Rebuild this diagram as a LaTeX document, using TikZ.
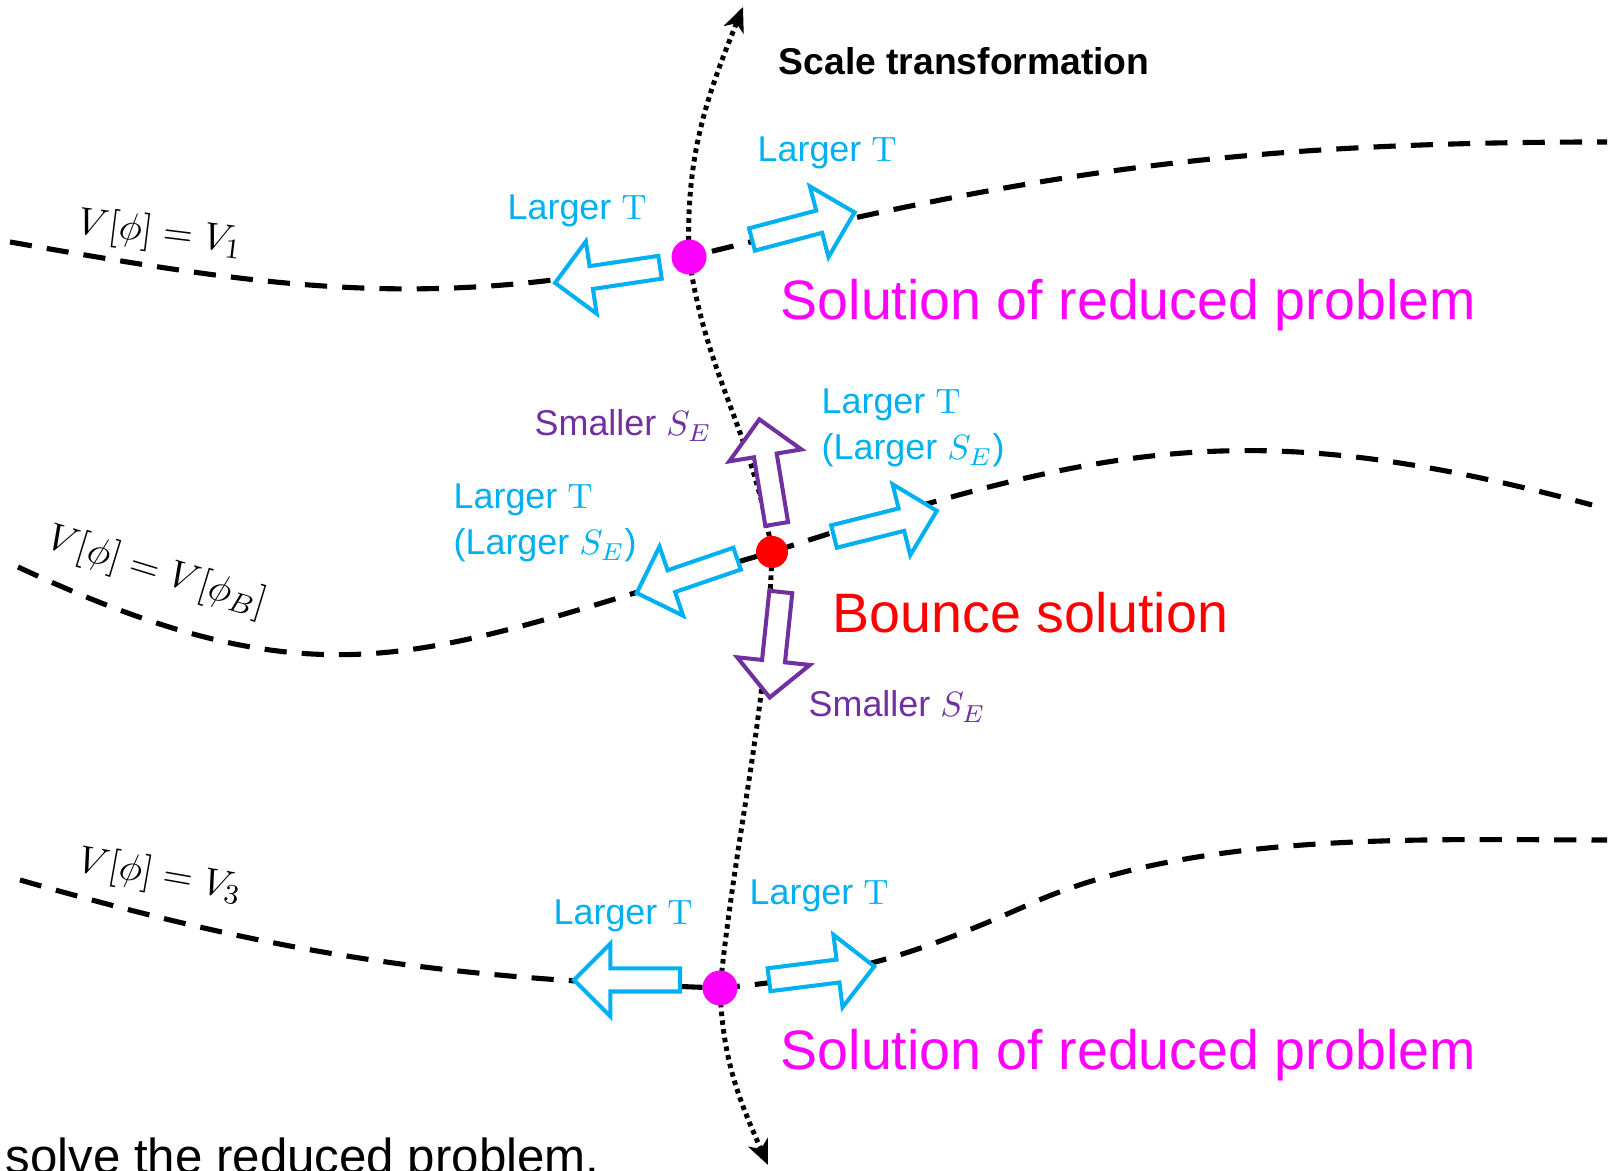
\documentclass[tikz,border=0pt]{standalone}
\usepackage{amssymb, amsmath}
\usepackage[no-math]{fontspec}
\setmainfont{Liberation Sans}
\usetikzlibrary{arrows.meta, shapes.arrows}

\definecolor{tcyan}{RGB}{0,176,240}
\definecolor{spurple}{RGB}{112,48,160}
\definecolor{rmag}{RGB}{255,0,255}
\definecolor{bred}{RGB}{255,0,0}

\tikzset{
  vcurve/.style={line width=1.45pt, dash pattern=on 6.3pt off 4.3pt},
  scurve/.style={line width=1.4pt, dash pattern=on 1.3pt off 1.2pt},
  tarrow/.style={single arrow, draw=tcyan, fill=white, line width=1.15pt,
    inner sep=0.095cm, single arrow head extend=0.25cm, minimum height=1.06cm, anchor=tail},
  sarrow/.style={tarrow, draw=spurple},
  lab/.style={inner sep=0, anchor=base west, font=\fontsize{10.2}{13.1}\selectfont},
  tlab/.style={lab, text=tcyan, align=left},
  slab/.style={lab, text=spurple},
  big/.style={inner sep=0, anchor=base west, font=\fontsize{15.8}{19}\selectfont},
  vlab/.style={inner sep=0, font=\fontsize{11}{13}\selectfont},
  sdot/.style={circle, inner sep=0, minimum size=#1}
}

\begin{document}
\begin{tikzpicture}[x=0.01cm, y=0.01cm, >={Stealth[length=7pt, width=6pt, inset=2pt]}]
\useasboundingbox (0,0) rectangle (1610,1171);

\coordinate (cTop) at (689,914);
\coordinate (cB) at (772,619);
\coordinate (cBot) at (720,183);

% level lines V[phi] = const
\coordinate (l1a) at (10,929);
\coordinate (l1b) at (1607,1029);
\coordinate (l2a) at (18,604);
\coordinate (l2b) at (1592,666);
\coordinate (l3a) at (20,291);
\coordinate (l3m) at (1030,267);
\coordinate (l3b) at (1607,331);
\draw[vcurve] (l1a) to[out=-10, in=192] (cTop) to[out=14, in=180] (l1b);
\draw[vcurve] (l2a) to[out=-25, in=196, looseness=1.2] (cB) to[out=18, in=165, looseness=1.1] (l2b);
\draw[vcurve] (l3a) to[out=-16, in=178] (cBot) to[out=5, in=204] (l3m) to[out=24, in=180, looseness=0.8] (l3b);

% scale transformation
\coordinate (sTop) at (743,1164);
\coordinate (sBot) at (768,6);
\draw[scurve, <->] (sBot) to[out=114, in=272] (cBot) to[out=84, in=268] (cB)
  to[out=99, in=278] (cTop) to[out=92, in=248] (sTop);

\node[tarrow, rotate=188.5] (a1l) at (662,904) {};
\node[tarrow, rotate=14.8] (a1r) at (750,931) {};
\node[tarrow, rotate=198.9] (a2l) at (739,613) {};
\node[tarrow, rotate=14] (a2r) at (832,634) {};
\node[sarrow, rotate=99.4] (a2u) at (777,645) {};
\node[sarrow, rotate=264] (a2d) at (781,581) {};
\node[tarrow, rotate=180] (a3l) at (682,191) {};
\node[tarrow, rotate=7.2] (a3r) at (767,191) {};

\node[sdot=0.35cm, fill=rmag] (pTop) at (cTop) {};
\node[sdot=0.32cm, fill=bred] (pB) at (cB) {};
\node[sdot=0.35cm, fill=rmag] (pBot) at (cBot) {};

\node[vlab, rotate=-7] (v1) at (160,937) {$V[\phi] = V_1$};
\node[vlab, rotate=-17] (v2) at (157,599) {$V[\phi] = V[\phi_B]$};
\node[vlab, rotate=-10] (v3) at (160,295) {$V[\phi] = V_3$};

\node[lab, font=\bfseries\fontsize{10.6}{13}\selectfont] (scl) at (778,1096) {Scale transformation};
\node[tlab] (t1l) at (507,951) {Larger $\mathrm{T}$};
\node[tlab] (t1r) at (757,1009) {Larger $\mathrm{T}$};
\node[big, text=rmag] (sol1) at (780,851) {Solution of reduced problem};
\node[slab] (sm1) at (534,735) {Smaller $S_E$};
\node[tlab] (t2r) at (821,711) {Larger $\mathrm{T}$\\(Larger $S_E$)};
\node[tlab] (t2l) at (453,616) {Larger $\mathrm{T}$\\(Larger $S_E$)};
\node[big, text=bred] (bnc) at (832,538) {Bounce solution};
\node[slab] (sm2) at (808,454) {Smaller $S_E$};
\node[tlab] (t3r) at (749,266) {Larger $\mathrm{T}$};
\node[tlab] (t3l) at (553,246) {Larger $\mathrm{T}$};
\node[big, text=rmag] (sol3) at (780,101) {Solution of reduced problem};
\node[lab, font=\fontsize{14}{17}\selectfont] (cut) at (5,-3) {solve the reduced problem.};

\end{tikzpicture}
\end{document}
